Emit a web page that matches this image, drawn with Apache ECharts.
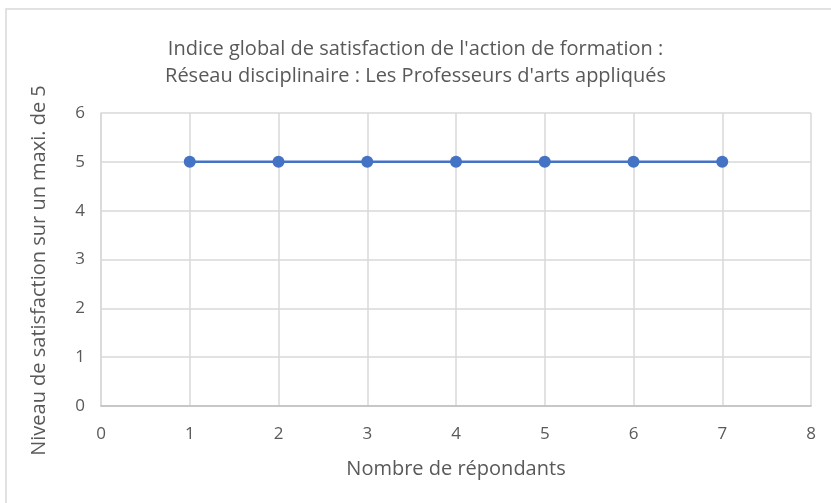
<!DOCTYPE html>
<html>
<head>
<meta charset="utf-8">
<script src="https://cdn.jsdelivr.net/npm/echarts@6/dist/echarts.min.js"></script>
<style>
  html, body { margin: 0; padding: 0; background: #fff; }
  #chart { width: 831px; height: 503px; }
</style>
</head>
<body>
<div id="chart"></div>
<script>
// données
var REPONDANTS = [1, 2, 3, 4, 5, 6, 7];
var SATISFACTION = [5, 5, 5, 5, 5, 5, 5];
var TITRE = "Indice global de satisfaction de l'action de formation :\nRéseau disciplinaire : Les Professeurs d'arts appliqués";
var NOM_X = 'Nombre de répondants';
var NOM_Y = 'Niveau de satisfaction sur un maxi. de 5';

var FONT = '"Open Sans", "Noto Sans", sans-serif';
var TEXT_COLOR = '#595959';
var BLUE = '#4472c4';

var points = REPONDANTS.map(function(x, i) {
    return [x, SATISFACTION[i]];
});

var chart = echarts.init(document.getElementById('chart'));
chart.setOption({
    animation: false,
    backgroundColor: '#fff',
    graphic: [{
        type: 'rect',
        shape: { x: 6, y: 9, width: 840, height: 520 },
        style: { fill: 'none', stroke: '#d9d9d9', lineWidth: 1.5 },
        silent: true
    }],
    title: {
        text: TITRE,
        left: 'center',
        top: 31,
        textStyle: {
            fontFamily: FONT,
            fontSize: 20,
            fontWeight: 'normal',
            color: TEXT_COLOR,
            lineHeight: 27
        }
    },
    grid: {
        left: 101,
        right: 20,
        top: 113,
        bottom: 97
    },
    xAxis: {
        type: 'value',
        min: 0,
        max: 8,
        interval: 1,
        name: NOM_X,
        nameLocation: 'middle',
        nameGap: 53,
        nameTextStyle: { fontFamily: FONT, fontSize: 20, color: TEXT_COLOR },
        axisLine: { show: true, lineStyle: { color: '#bfbfbf', width: 1.5 } },
        axisTick: { show: false },
        axisLabel: { fontFamily: FONT, fontSize: 17, color: TEXT_COLOR, margin: 20 },
        splitLine: { show: true, lineStyle: { color: '#d9d9d9', width: 1.5 } }
    },
    yAxis: {
        type: 'value',
        min: 0,
        max: 6,
        interval: 1,
        name: NOM_Y,
        nameLocation: 'middle',
        nameGap: 52,
        // décale un peu le titre vers le bas, comme dans l'original
        nameTextStyle: { fontFamily: FONT, fontSize: 20, color: TEXT_COLOR, padding: [0, 22, 0, 0] },
        axisLine: { show: true, lineStyle: { color: '#d9d9d9', width: 1.5 } },
        axisTick: { show: false },
        axisLabel: { fontFamily: FONT, fontSize: 17, color: TEXT_COLOR, margin: 16 },
        splitLine: { show: true, lineStyle: { color: '#d9d9d9', width: 1.5 } }
    },
    series: [{
        type: 'line',
        data: points,
        symbol: 'circle',
        symbolSize: 12,
        lineStyle: { color: BLUE, width: 2.5 },
        itemStyle: { color: BLUE }
    }]
});
</script>
</body>
</html>
